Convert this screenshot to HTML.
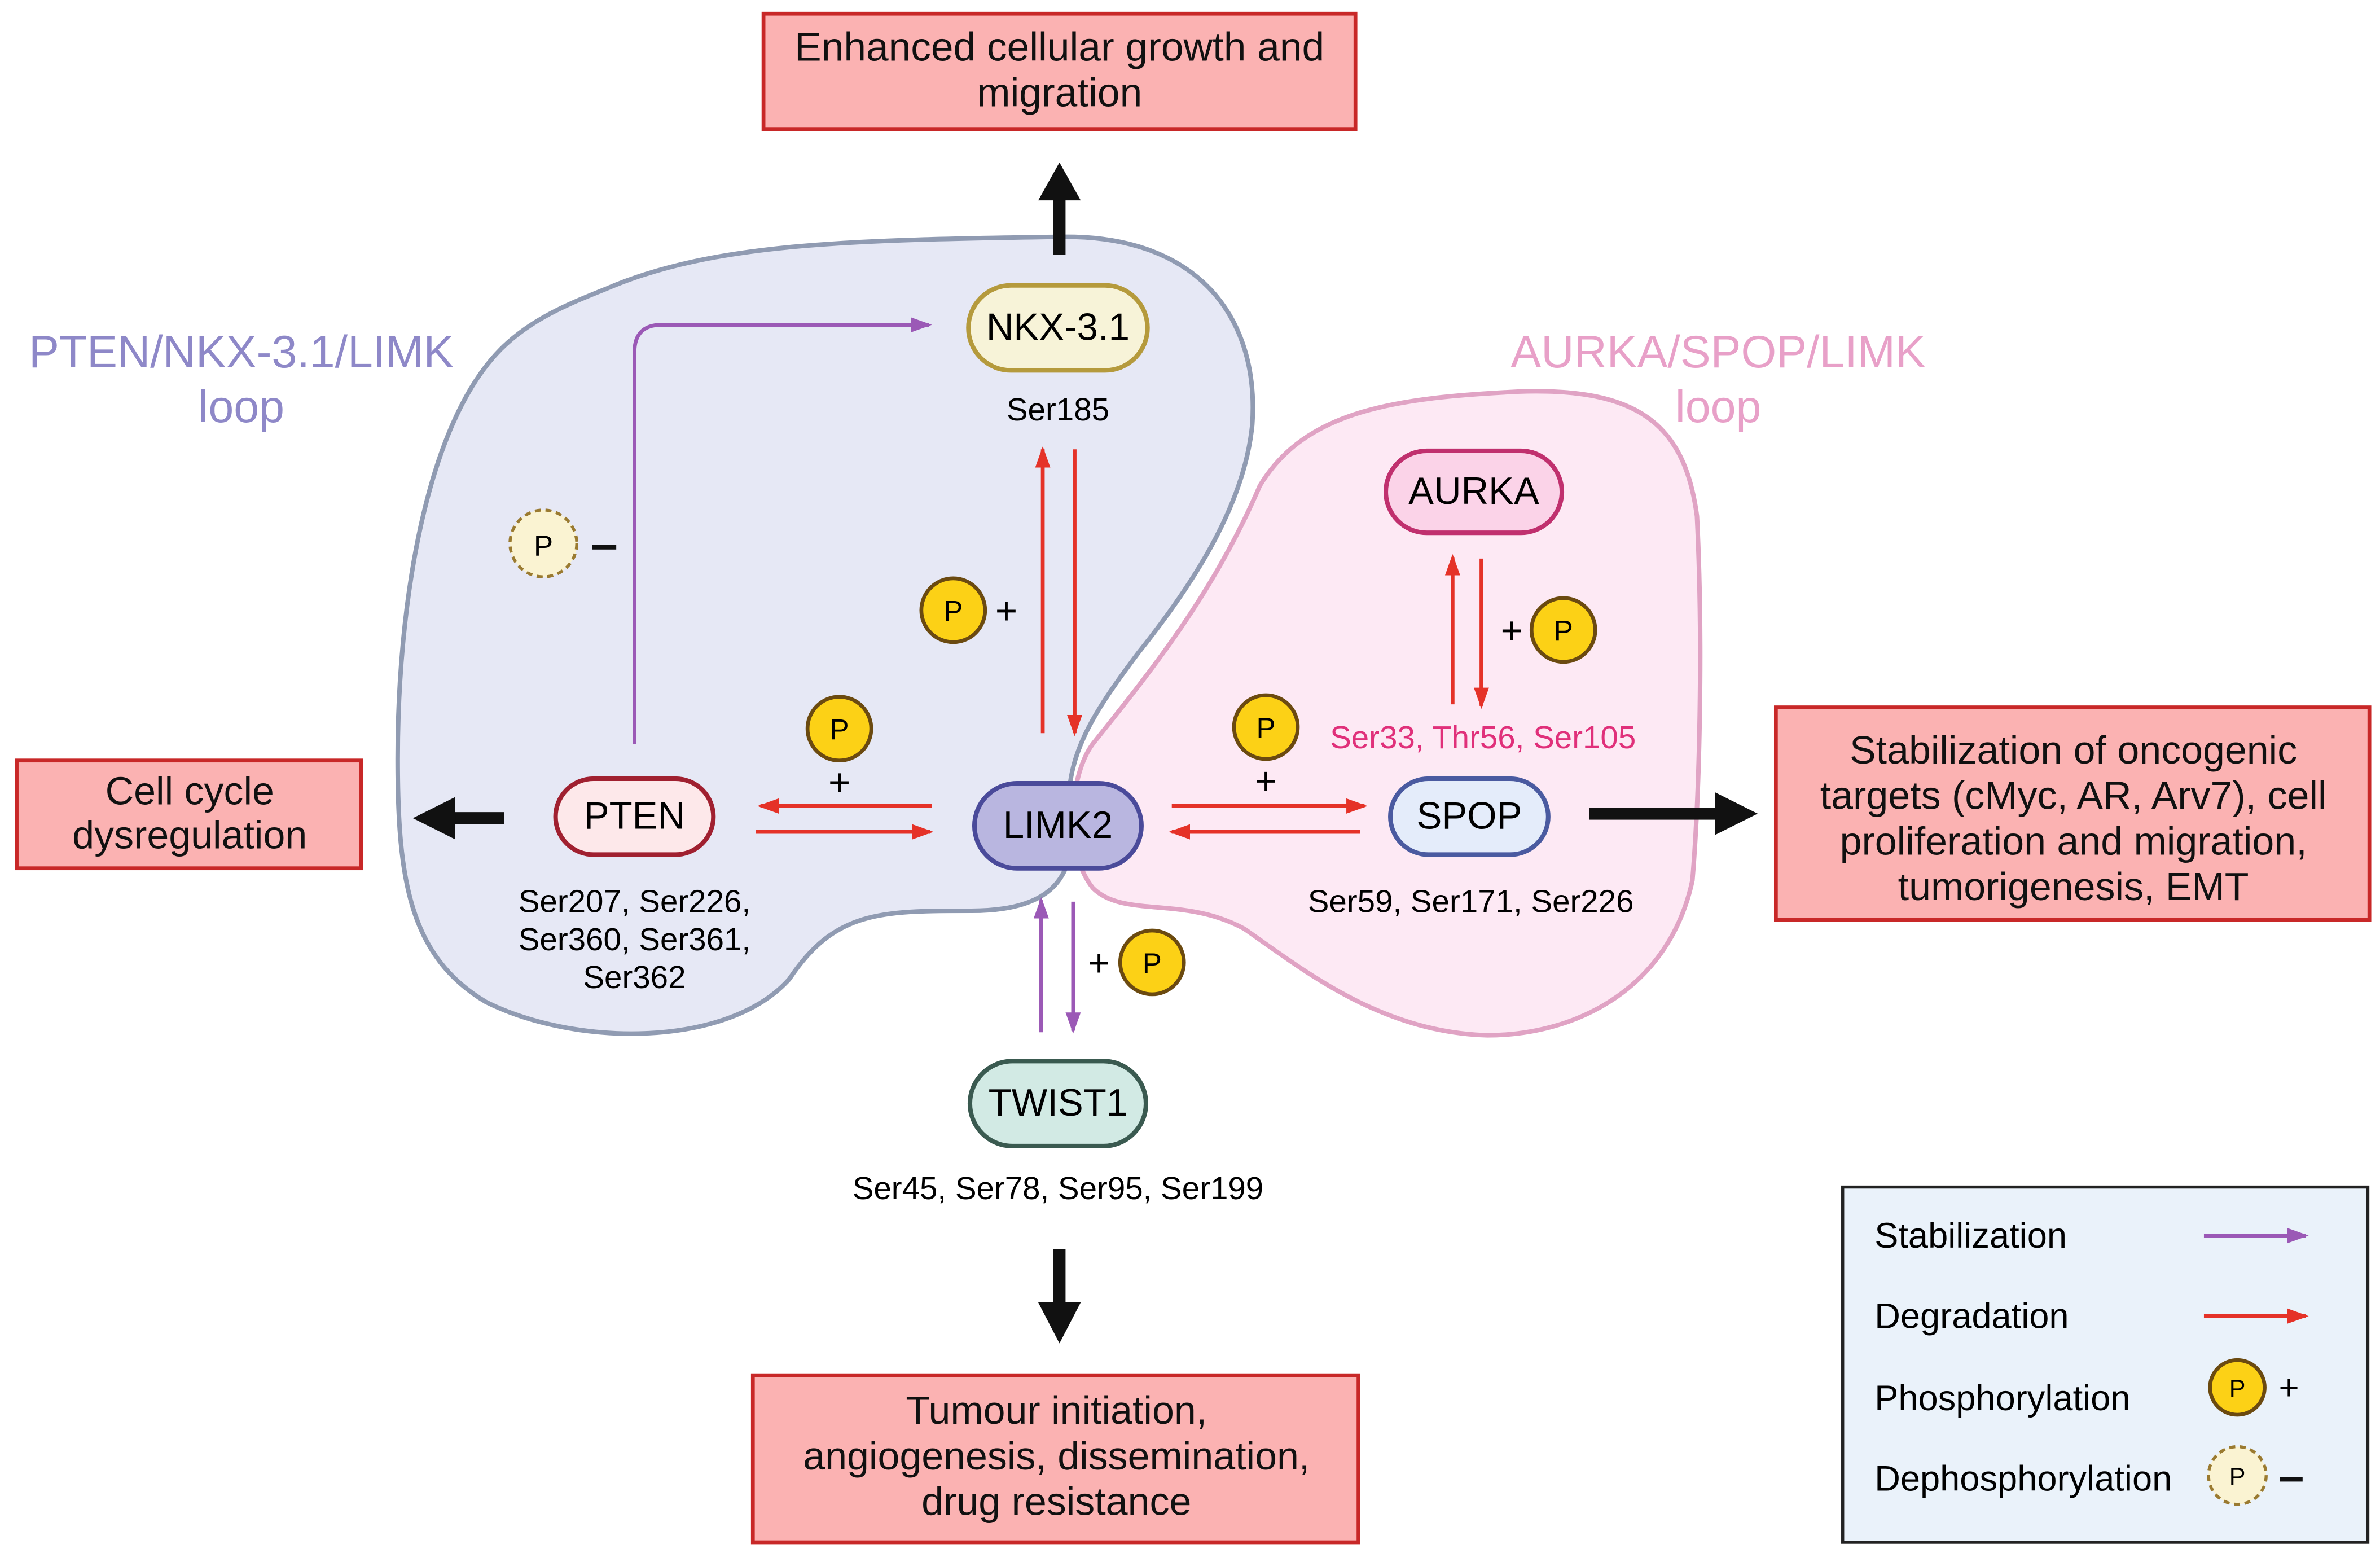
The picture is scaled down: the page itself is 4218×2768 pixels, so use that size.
<!DOCTYPE html>
<html><head><meta charset="utf-8"><style>
html,body{margin:0;padding:0;background:#fff;}
svg{display:block;}
text{font-family:"Liberation Sans",sans-serif;}
</style></head><body>
<svg width="4218" height="2768" viewBox="0 0 1568 1029" preserveAspectRatio="none" xmlns="http://www.w3.org/2000/svg">
<defs>
<marker id="ar" markerWidth="16" markerHeight="12" refX="12" refY="6" orient="auto" markerUnits="userSpaceOnUse"><path d="M0,1 L14,6 L0,11 z" fill="#e53228"/></marker>
<marker id="ap" markerWidth="16" markerHeight="12" refX="12" refY="6" orient="auto" markerUnits="userSpaceOnUse"><path d="M0,1 L14,6 L0,11 z" fill="#9b59b6"/></marker>
</defs>
<rect width="1568" height="1029" fill="#fff"/>
<path d="M400,190 C470,160 560,158 700,156 C790,155 830,210 825,280 C820,330 790,380 750,430 C720,470 700,500 705,540 C710,580 690,600 640,600 C580,600 550,600 520,645 C480,690 380,690 320,660 C270,630 262,580 262,500 C262,400 280,280 330,230 C350,210 375,200 400,190 Z" fill="#e6e8f5" stroke="#909bb2" stroke-width="3"/>
<path d="M720,490 C760,440 800,390 830,320 C860,270 920,262 1000,258 C1080,255 1110,280 1118,340 C1122,420 1120,520 1115,580 C1100,650 1040,682 980,682 C910,680 860,640 820,612 C780,590 740,605 720,585 C700,560 705,510 720,490 Z" fill="#fde9f4" stroke="#e0a3c4" stroke-width="3"/>
<rect x="503" y="9" width="390" height="76" fill="#fbb2b2" stroke="#c82828" stroke-width="2.5"/>
<text x="698" y="40" font-size="26.5" text-anchor="middle" fill="#111">Enhanced cellular growth and</text>
<text x="698" y="70" font-size="26.5" text-anchor="middle" fill="#111">migration</text>
<rect x="11" y="501" width="227" height="71" fill="#fbb2b2" stroke="#c82828" stroke-width="2.5"/>
<text x="125" y="530" font-size="26" text-anchor="middle" fill="#111">Cell cycle</text>
<text x="125" y="559" font-size="26" text-anchor="middle" fill="#111">dysregulation</text>
<rect x="1170" y="466" width="391" height="140" fill="#fbb2b2" stroke="#c82828" stroke-width="2.5"/>
<text x="1366" y="503" font-size="26" text-anchor="middle" fill="#111">Stabilization of oncogenic</text>
<text x="1366" y="533" font-size="26" text-anchor="middle" fill="#111">targets (cMyc, AR, Arv7), cell</text>
<text x="1366" y="563" font-size="26" text-anchor="middle" fill="#111">proliferation and migration,</text>
<text x="1366" y="593" font-size="26" text-anchor="middle" fill="#111">tumorigenesis, EMT</text>
<rect x="496" y="906" width="399" height="110" fill="#fbb2b2" stroke="#c82828" stroke-width="2.5"/>
<text x="696" y="938" font-size="26" text-anchor="middle" fill="#111">Tumour initiation,</text>
<text x="696" y="968" font-size="26" text-anchor="middle" fill="#111">angiogenesis, dissemination,</text>
<text x="696" y="998" font-size="26" text-anchor="middle" fill="#111">drug resistance</text>
<text x="159" y="242" font-size="30" text-anchor="middle" fill="#8e88c8">PTEN/NKX-3.1/LIMK</text>
<text x="159" y="278" font-size="30" text-anchor="middle" fill="#8e88c8">loop</text>
<text x="1132" y="242" font-size="30" text-anchor="middle" fill="#e8a0c8">AURKA/SPOP/LIMK</text>
<text x="1132" y="278" font-size="30" text-anchor="middle" fill="#e8a0c8">loop</text>
<rect x="694" y="130" width="8" height="38" fill="#111"/><path d="M684,132 L698,107 L712,132 Z" fill="#111"/>
<rect x="298" y="535" width="34" height="8" fill="#111"/><path d="M300,525 L272,539 L300,553 Z" fill="#111"/>
<rect x="1047" y="532" width="86" height="8" fill="#111"/><path d="M1130,522 L1158,536 L1130,550 Z" fill="#111"/>
<rect x="694" y="823" width="8" height="38" fill="#111"/><path d="M684,858 L698,885 L712,858 Z" fill="#111"/>
<path d="M418,490 L418,232 Q418,214 436,214 L612,214" fill="none" stroke="#9b59b6" stroke-width="2.5" marker-end="url(#ap)"/>
<circle cx="358" cy="358" r="22" fill="#faf3d2" stroke="#9a7a30" stroke-width="2" stroke-dasharray="4,3"/>
<text x="358" y="366" font-size="19" text-anchor="middle">P</text>
<rect x="390" y="359" width="16" height="3" fill="#111"/>
<g stroke="#e53228" stroke-width="2.5" fill="none">
<line x1="687" y1="483" x2="687" y2="296" marker-end="url(#ar)"/>
<line x1="708" y1="296" x2="708" y2="483" marker-end="url(#ar)"/>
<line x1="614" y1="531" x2="501" y2="531" marker-end="url(#ar)"/>
<line x1="498" y1="548" x2="613" y2="548" marker-end="url(#ar)"/>
<line x1="772" y1="531" x2="899" y2="531" marker-end="url(#ar)"/>
<line x1="896" y1="548" x2="772" y2="548" marker-end="url(#ar)"/>
<line x1="957" y1="464" x2="957" y2="367" marker-end="url(#ar)"/>
<line x1="976" y1="368" x2="976" y2="465" marker-end="url(#ar)"/>
</g>
<g stroke="#9b59b6" stroke-width="2.5" fill="none">
<line x1="686" y1="680" x2="686" y2="593" marker-end="url(#ap)"/>
<line x1="707" y1="594" x2="707" y2="679" marker-end="url(#ap)"/>
</g>
<g font-size="19" text-anchor="middle">
<circle cx="628" cy="402" r="21" fill="#fcd116" stroke="#6b4a10" stroke-width="2.5"/><text x="628" y="409">P</text><text x="663" y="411" font-size="25">+</text>
<circle cx="553" cy="480" r="21" fill="#fcd116" stroke="#6b4a10" stroke-width="2.5"/><text x="553" y="487">P</text><text x="553" y="524" font-size="25">+</text>
<circle cx="834" cy="479" r="21" fill="#fcd116" stroke="#6b4a10" stroke-width="2.5"/><text x="834" y="486">P</text><text x="834" y="523" font-size="25">+</text>
<circle cx="1030" cy="415" r="21" fill="#fcd116" stroke="#6b4a10" stroke-width="2.5"/><text x="1030" y="422">P</text><text x="996" y="424" font-size="25">+</text>
<circle cx="759" cy="634" r="21" fill="#fcd116" stroke="#6b4a10" stroke-width="2.5"/><text x="759" y="641">P</text><text x="724" y="643" font-size="25">+</text>
</g>
<rect x="638" y="188" width="118" height="56" rx="28" fill="#f7f3d8" stroke="#b59a3c" stroke-width="3"/>
<text x="697" y="224" font-size="25" text-anchor="middle">NKX-3.1</text>
<text x="697" y="277" font-size="21" text-anchor="middle">Ser185</text>
<rect x="913" y="297" width="116" height="54" rx="27" fill="#fbd3e8" stroke="#c0306e" stroke-width="3"/>
<text x="971" y="332" font-size="25" text-anchor="middle">AURKA</text>
<text x="977" y="493" font-size="21" text-anchor="middle" fill="#e0307a">Ser33, Thr56, Ser105</text>
<rect x="366" y="513" width="104" height="50" rx="25" fill="#fde8ea" stroke="#a02030" stroke-width="3"/>
<text x="418" y="546" font-size="25" text-anchor="middle">PTEN</text>
<text x="418" y="601" font-size="21" text-anchor="middle">Ser207, Ser226,</text>
<text x="418" y="626" font-size="21" text-anchor="middle">Ser360, Ser361,</text>
<text x="418" y="651" font-size="21" text-anchor="middle">Ser362</text>
<rect x="642" y="516" width="110" height="56" rx="28" fill="#b9b6e0" stroke="#4a4a9a" stroke-width="3"/>
<text x="697" y="552" font-size="25" text-anchor="middle">LIMK2</text>
<rect x="916" y="513" width="104" height="50" rx="25" fill="#e4ecfa" stroke="#4a5aa0" stroke-width="3"/>
<text x="968" y="546" font-size="25" text-anchor="middle">SPOP</text>
<text x="969" y="601" font-size="21" text-anchor="middle">Ser59, Ser171, Ser226</text>
<rect x="639" y="699" width="116" height="56" rx="28" fill="#d2eae4" stroke="#3a5a50" stroke-width="3"/>
<text x="697" y="735" font-size="25" text-anchor="middle">TWIST1</text>
<text x="697" y="790" font-size="21" text-anchor="middle">Ser45, Ser78, Ser95, Ser199</text>
<rect x="1214" y="782" width="346" height="234" fill="#eaf2fa" stroke="#222" stroke-width="2"/>
<text x="1235" y="822" font-size="23.5">Stabilization</text>
<text x="1235" y="875" font-size="23.5">Degradation</text>
<text x="1235" y="929" font-size="23.5">Phosphorylation</text>
<text x="1235" y="982" font-size="23.5">Dephosphorylation</text>
<line x1="1452" y1="814" x2="1519" y2="814" stroke="#9b59b6" stroke-width="2.5" marker-end="url(#ap)"/>
<line x1="1452" y1="867" x2="1519" y2="867" stroke="#e53228" stroke-width="2.5" marker-end="url(#ar)"/>
<circle cx="1474" cy="914" r="18" fill="#fcd116" stroke="#6b4a10" stroke-width="2.5"/><text x="1474" y="920" font-size="16" text-anchor="middle">P</text>
<text x="1508" y="922" font-size="23" text-anchor="middle">+</text>
<circle cx="1474" cy="972" r="19" fill="#faf3d2" stroke="#9a7a30" stroke-width="2" stroke-dasharray="4,3"/><text x="1474" y="978" font-size="16" text-anchor="middle">P</text>
<rect x="1502" y="973" width="15" height="3" fill="#111"/>
</svg>
</body></html>
